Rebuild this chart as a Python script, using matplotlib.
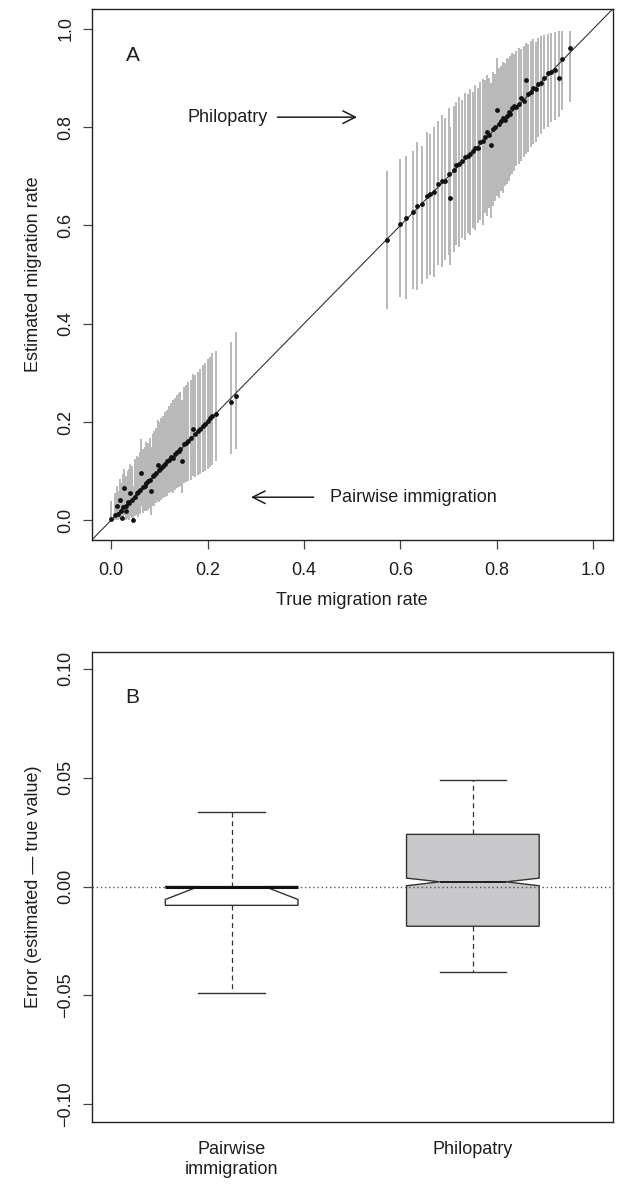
import numpy as np
import matplotlib
matplotlib.use('Agg')
import matplotlib.pyplot as plt

plt.rcParams['font.family'] = ['Liberation Sans', 'DejaVu Sans']

# ---- panel A: true vs estimated migration rate (with 95% intervals) ----
true_pw = [0.000, 0.008, 0.012, 0.015, 0.018, 0.020, 0.022, 0.025, 0.027, 0.030,
           0.032, 0.035, 0.038, 0.040, 0.043, 0.046, 0.050, 0.053, 0.056, 0.060,
           0.063, 0.066, 0.070, 0.073, 0.076, 0.080, 0.083, 0.086, 0.090, 0.093,
           0.097, 0.100, 0.104, 0.108, 0.112, 0.116, 0.120, 0.124, 0.128, 0.132,
           0.136, 0.140, 0.144, 0.148, 0.152, 0.156, 0.160, 0.165, 0.170, 0.175,
           0.180, 0.185, 0.190, 0.195, 0.200, 0.205, 0.210, 0.218, 0.249, 0.260]
est_pw = [0.002, 0.010, 0.030, 0.012, 0.041, 0.020, 0.005, 0.028, 0.065, 0.030,
          0.018, 0.038, 0.035, 0.055, 0.042, 0.000, 0.048, 0.055, 0.058, 0.062,
          0.096, 0.068, 0.070, 0.075, 0.080, 0.082, 0.060, 0.090, 0.092, 0.096,
          0.112, 0.102, 0.106, 0.110, 0.115, 0.120, 0.122, 0.128, 0.126, 0.135,
          0.140, 0.142, 0.145, 0.120, 0.155, 0.158, 0.162, 0.168, 0.185, 0.176,
          0.182, 0.186, 0.192, 0.196, 0.202, 0.208, 0.212, 0.216, 0.241, 0.253]
lo_pw = [0.000, 0.000, 0.000, 0.000, 0.002, 0.000, 0.000, 0.000, 0.010, 0.000,
         0.000, 0.002, 0.000, 0.008, 0.005, 0.000, 0.008, 0.010, 0.006, 0.012,
         0.030, 0.015, 0.018, 0.020, 0.022, 0.025, 0.010, 0.030, 0.030, 0.035,
         0.040, 0.038, 0.042, 0.045, 0.048, 0.050, 0.055, 0.058, 0.055, 0.062,
         0.065, 0.068, 0.070, 0.055, 0.075, 0.078, 0.080, 0.082, 0.090, 0.088,
         0.092, 0.095, 0.098, 0.100, 0.105, 0.108, 0.112, 0.120, 0.135, 0.145]
hi_pw = [0.040, 0.055, 0.070, 0.060, 0.085, 0.075, 0.065, 0.095, 0.105, 0.090,
         0.080, 0.100, 0.105, 0.115, 0.110, 0.070, 0.125, 0.130, 0.128, 0.140,
         0.165, 0.145, 0.150, 0.160, 0.158, 0.168, 0.150, 0.175, 0.182, 0.188,
         0.205, 0.200, 0.208, 0.212, 0.220, 0.225, 0.232, 0.238, 0.245, 0.248,
         0.255, 0.258, 0.262, 0.245, 0.272, 0.275, 0.282, 0.285, 0.298, 0.295,
         0.302, 0.308, 0.315, 0.320, 0.328, 0.332, 0.340, 0.345, 0.363, 0.383]

true_ph = [0.572, 0.600, 0.612, 0.625, 0.635, 0.645, 0.655, 0.662, 0.670, 0.678,
           0.685, 0.692, 0.700, 0.703, 0.710, 0.716, 0.722, 0.728, 0.734, 0.740,
           0.745, 0.750, 0.755, 0.760, 0.765, 0.770, 0.775, 0.780, 0.784, 0.788,
           0.792, 0.796, 0.800, 0.804, 0.808, 0.812, 0.816, 0.820, 0.824, 0.828,
           0.832, 0.836, 0.840, 0.845, 0.850, 0.855, 0.860, 0.865, 0.870, 0.875,
           0.880, 0.886, 0.892, 0.898, 0.905, 0.912, 0.920, 0.928, 0.935, 0.952]
est_ph = [0.570, 0.602, 0.615, 0.628, 0.640, 0.643, 0.660, 0.664, 0.668, 0.684,
          0.690, 0.690, 0.705, 0.655, 0.712, 0.722, 0.725, 0.730, 0.738, 0.742,
          0.746, 0.752, 0.758, 0.758, 0.770, 0.772, 0.780, 0.790, 0.783, 0.763,
          0.795, 0.800, 0.834, 0.806, 0.812, 0.818, 0.815, 0.822, 0.830, 0.826,
          0.838, 0.842, 0.840, 0.846, 0.858, 0.852, 0.895, 0.868, 0.872, 0.880,
          0.878, 0.888, 0.890, 0.900, 0.910, 0.912, 0.915, 0.899, 0.938, 0.960]
lo_ph = [0.430, 0.455, 0.450, 0.470, 0.468, 0.480, 0.490, 0.500, 0.495, 0.520,
         0.515, 0.530, 0.540, 0.520, 0.545, 0.560, 0.555, 0.575, 0.570, 0.585,
         0.580, 0.595, 0.590, 0.605, 0.610, 0.600, 0.625, 0.620, 0.635, 0.615,
         0.640, 0.650, 0.660, 0.655, 0.670, 0.665, 0.680, 0.685, 0.690, 0.700,
         0.705, 0.710, 0.720, 0.725, 0.730, 0.740, 0.745, 0.750, 0.760, 0.765,
         0.770, 0.780, 0.785, 0.795, 0.800, 0.810, 0.815, 0.820, 0.835, 0.850]
hi_ph = [0.710, 0.735, 0.742, 0.752, 0.770, 0.762, 0.790, 0.785, 0.800, 0.812,
         0.825, 0.818, 0.838, 0.800, 0.842, 0.850, 0.862, 0.855, 0.870, 0.868,
         0.878, 0.872, 0.885, 0.880, 0.892, 0.898, 0.895, 0.905, 0.900, 0.890,
         0.912, 0.908, 0.940, 0.920, 0.925, 0.932, 0.930, 0.940, 0.938, 0.945,
         0.950, 0.948, 0.955, 0.960, 0.958, 0.965, 0.970, 0.968, 0.975, 0.978,
         0.972, 0.982, 0.985, 0.988, 0.990, 0.992, 0.993, 0.995, 0.995, 0.995]

# ---- panel B: error boxplots ----
box_names = ['Pairwise\nimmigration', 'Philopatry']
whis_lo = [-0.049, -0.0394]
q1 = [-0.0086, -0.0182]
ci_lo = [-0.0059, 0.0004]
med = [0.0, 0.0022]
ci_hi = [0.0, 0.0039]
q3 = [0.0, 0.024]
whis_hi = [0.0342, 0.049]
box_fill = ['white', '#c8c8ca']

fig = plt.figure(figsize=(6.27, 11.85), dpi=100)
axA = fig.add_axes([0.1463, 0.5443, 0.831, 0.4481])
axB = fig.add_axes([0.1463, 0.0534, 0.831, 0.3968])

ink = '#1e1e1e'

# panel A
axA.vlines(true_pw, lo_pw, hi_pw, color='#b8b8b8', lw=1.4, zorder=1)
axA.vlines(true_ph, lo_ph, hi_ph, color='#b8b8b8', lw=1.4, zorder=1)
axA.axline((0, 0), (1, 1), color='#333333', lw=0.8, zorder=2)
axA.scatter(true_pw, est_pw, s=12, c='#111111', linewidths=0, zorder=3)
axA.scatter(true_ph, est_ph, s=12, c='#111111', linewidths=0, zorder=3)
axA.set_xlim(-0.04, 1.04)
axA.set_ylim(-0.04, 1.04)
ticks = [0.0, 0.2, 0.4, 0.6, 0.8, 1.0]
axA.set_xticks(ticks, ['%.1f' % t for t in ticks])
axA.set_yticks(ticks, ['%.1f' % t for t in ticks])
axA.set_xlabel('True migration rate', fontsize=13, labelpad=10, color=ink)
axA.set_ylabel('Estimated migration rate', fontsize=13, labelpad=11, color=ink)
axA.text(0.045, 0.945, 'A', fontsize=15, ha='center', va='center', color=ink)
axA.text(0.325, 0.82, 'Philopatry', fontsize=13, ha='right', va='center', color=ink)
axA.annotate('', xy=(0.51, 0.82), xytext=(0.345, 0.82),
             arrowprops=dict(arrowstyle='->,head_length=0.6,head_width=0.3',
                             lw=1.1, color=ink, mutation_scale=15,
                             shrinkA=0, shrinkB=0))
axA.text(0.453, 0.047, 'Pairwise immigration', fontsize=13, ha='left', va='center', color=ink)
axA.annotate('', xy=(0.29, 0.047), xytext=(0.42, 0.047),
             arrowprops=dict(arrowstyle='->,head_length=0.6,head_width=0.3',
                             lw=1.1, color=ink, mutation_scale=15,
                             shrinkA=0, shrinkB=0))

# panel B
stats = []
for i in range(len(box_names)):
    stats.append(dict(whislo=whis_lo[i], q1=q1[i], med=med[i], q3=q3[i],
                      whishi=whis_hi[i], cilo=ci_lo[i], cihi=ci_hi[i], fliers=[]))
width = 0.55
bp = axB.bxp(stats, positions=[1, 2], widths=width, shownotches=True,
             patch_artist=True, showfliers=False, manage_ticks=False,
             boxprops=dict(edgecolor='#333333', lw=1.0),
             medianprops=dict(color='#111111', lw=1.3, zorder=4),
             whiskerprops=dict(color='#333333', lw=0.9, linestyle=(0, (4, 3))),
             capprops=dict(color='#333333', lw=1.0))
for patch, col in zip(bp['boxes'], box_fill):
    patch.set_facecolor(col)
for i in range(len(box_names)):
    # median sitting on the upper hinge: R draws it thick across the whole box
    if q3[i] == med[i]:
        axB.hlines(med[i], i + 1 - width / 2, i + 1 + width / 2,
                   color='#111111', lw=2.2, zorder=4)
axB.axhline(0, color='#555555', lw=1.0, linestyle=(0, (1, 2)), zorder=3)
axB.set_xlim(0.42, 2.58)
axB.set_ylim(-0.108, 0.108)
yt = [-0.10, -0.05, 0.0, 0.05, 0.10]
axB.set_yticks(yt, ['%.2f' % t if t >= 0 else '\u2212%.2f' % -t for t in yt])
axB.set_xticks([1, 2], box_names)
axB.set_ylabel('Error (estimated \u2014 true value)', fontsize=13, labelpad=11, color=ink)
axB.text(0.59, 0.087, 'B', fontsize=15, ha='center', va='center', color=ink)

for ax in (axA, axB):
    for sp in ax.spines.values():
        sp.set_color('#222222')
        sp.set_linewidth(1.0)
    ax.tick_params(axis='both', direction='out', length=6.5, width=0.9,
                   color='#444444', labelsize=13, labelcolor=ink)
    ax.tick_params(axis='x', pad=9)
    ax.tick_params(axis='y', pad=6, labelrotation=90)
    for t in ax.get_yticklabels():
        t.set_va('center')
axB.tick_params(axis='x', length=0, pad=14)

fig.savefig('out.png', dpi=100)
